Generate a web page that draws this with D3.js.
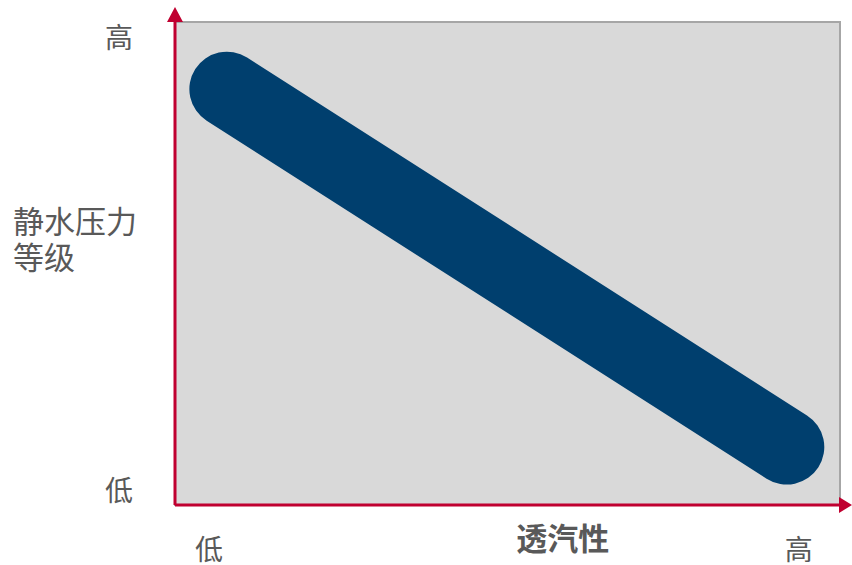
<!DOCTYPE html>
<html>
<head>
<meta charset="utf-8">
<script src="https://cdn.jsdelivr.net/npm/d3@7"></script>
<style>
  body { margin: 0; background: #fff; }
  text { font-family: "Noto Sans CJK SC", "Noto Sans", sans-serif; fill: #595959; }
</style>
</head>
<body>
<svg id="chart" width="852" height="565"></svg>
<script>
// data
var trendX = [0.78, 9.2];
var trendY = [8.61, 1.2];
var xTickLabels = ["低", "高"];
var xTickValues = [0.51, 9.38];
var yTickLabels = ["低", "高"];
var yTickValues = [0.33, 9.71];
var xTitle = "透汽性";
var yTitle = ["静水压力", "等级"];

var margin = {top: 22, right: 12, bottom: 60, left: 175},
    width = 840 - margin.left,
    height = 505 - margin.top;

var x = d3.scaleLinear().domain([0, 10]).range([0, width]);
var y = d3.scaleLinear().domain([0, 10]).range([height, 0]);

var svg = d3.select("#chart");
var g = svg.append("g")
  .attr("transform", "translate(" + margin.left + "," + margin.top + ")");

// plot background
g.append("rect")
  .attr("x", 0).attr("y", 0)
  .attr("width", width).attr("height", height)
  .attr("fill", "#d9d9d9")
  .attr("stroke", "#a6a6a6")
  .attr("stroke-width", 2);

// trend band
var pts = trendX.map(function(d, i) { return [x(d), y(trendY[i])]; });
g.append("path")
  .datum(pts)
  .attr("d", d3.line())
  .attr("fill", "none")
  .attr("stroke", "#003f6e")
  .attr("stroke-width", 75)
  .attr("stroke-linecap", "round");

// axes with arrows
var red = "#c00030";
g.append("line")
  .attr("x1", 0).attr("y1", height)
  .attr("x2", 0).attr("y2", -2)
  .attr("stroke", red).attr("stroke-width", 3);
g.append("line")
  .attr("x1", 0).attr("y1", height)
  .attr("x2", width + 2).attr("y2", height)
  .attr("stroke", red).attr("stroke-width", 3);
g.append("path")
  .attr("d", "M-8,0 L8,0 L0,-15 Z")
  .attr("fill", red);
g.append("path")
  .attr("d", "M" + (width - 1) + "," + (height - 8) + " L" + (width - 1) + "," + (height + 8) + " L" + (width + 12) + "," + height + " Z")
  .attr("fill", red);

// tick labels
g.selectAll(".xlab")
  .data(xTickLabels)
  .enter().append("text")
  .attr("class", "xlab")
  .attr("x", function(d, i) { return x(xTickValues[i]); })
  .attr("y", height + 43)
  .attr("text-anchor", "middle")
  .attr("dominant-baseline", "central")
  .style("font-size", "28px")
  .text(function(d) { return d; });

g.selectAll(".ylab")
  .data(yTickLabels)
  .enter().append("text")
  .attr("class", "ylab")
  .attr("x", -56)
  .attr("y", function(d, i) { return y(yTickValues[i]); })
  .attr("text-anchor", "middle")
  .attr("dominant-baseline", "central")
  .style("font-size", "28px")
  .text(function(d) { return d; });

// titles
g.append("text")
  .attr("x", x(5.83))
  .attr("y", height + 31)
  .attr("text-anchor", "middle")
  .attr("dominant-baseline", "central")
  .style("font-size", "31px")
  .style("font-weight", "bold")
  .text(xTitle);

var yt = g.append("text")
  .attr("x", 13 - margin.left)
  .attr("y", 219 - margin.top)
  .style("font-size", "31px");
yt.selectAll("tspan")
  .data(yTitle)
  .enter().append("tspan")
  .attr("x", 13 - margin.left)
  .attr("y", function(d, i) { return 219 - margin.top + i * 36; })
  .attr("dominant-baseline", "central")
  .text(function(d) { return d; });
</script>
</body>
</html>
